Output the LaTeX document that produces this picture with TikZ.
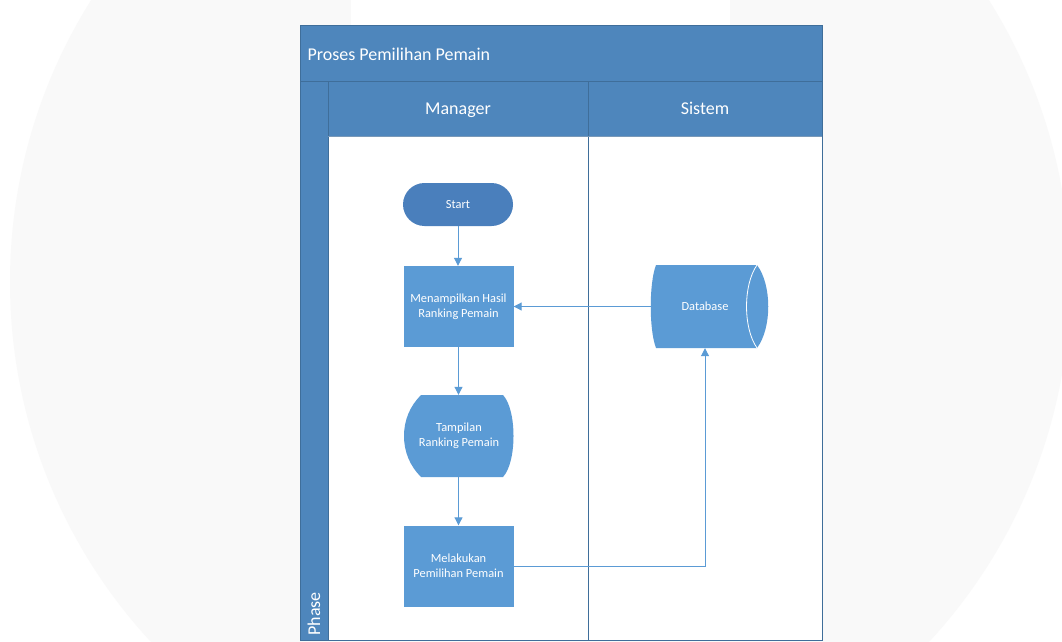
\documentclass[tikz,border=0pt]{standalone}
\usepackage{fontspec}
\setmainfont{Carlito}
\usetikzlibrary{arrows.meta}

\definecolor{pagegray}{HTML}{F9F9F9}
\definecolor{hdrblue}{HTML}{4E86BC}
\definecolor{laneline}{HTML}{3F6E9A}
\definecolor{shapeblue}{HTML}{5B9BD5}
\definecolor{startblue}{HTML}{4A7FBC}
\definecolor{connblue}{HTML}{5B9BD5}

\tikzset{
  shapetext/.style={text=white, align=center, font=\fontsize{12.4}{15}\selectfont},
  procbox/.style={shapetext, fill=shapeblue, minimum width=110pt, minimum height=81pt, inner sep=0pt},
  termbox/.style={shapetext, fill=startblue, rounded corners=21.5pt, minimum width=110pt, minimum height=43pt, inner sep=0pt},
  ghostbox/.style={shapetext, inner sep=0pt},
  headtext/.style={text=white, font=\fontsize{18}{20}\selectfont},
  conn/.style={draw=connblue, line width=1pt, -{Triangle[length=8pt,width=8pt]}},
  lanerule/.style={draw=laneline, line width=0.9pt},
}

\begin{document}
\begin{tikzpicture}[x=1pt, y=-1pt]
  \useasboundingbox (0,0) rectangle (1062,642);

  % page backdrop
  \fill[white] (0,0) rectangle (1062,642);
  \fill[pagegray] (540,282) circle (530);
  \fill[white] (351,0) rectangle (730,100);

  % pool: title bar, lane headers, phase column, lane bodies
  \fill[hdrblue] (300,25) rectangle (822,136);
  \fill[hdrblue] (300,136) rectangle (328,640);
  \fill[white] (328,136) rectangle (822,640);
  \draw[lanerule] (300,25) rectangle (822,640);
  \draw[lanerule] (300,81) -- (822,81);
  \draw[lanerule] (328,81) -- (328,640);
  \draw[lanerule] (588,81) -- (588,640);
  \draw[draw=laneline!70, line width=0.6pt] (328,136) -- (822,136);

  \node[headtext, anchor=west] (title) at (304,54) {Proses Pemilihan Pemain};
  \node[headtext, anchor=base] (manager) at (458,114) {Manager};
  \node[headtext, anchor=base] (sistem) at (705,114) {Sistem};
  \node[headtext, rotate=90, anchor=west] (phase) at (314,639) {Phase};

  % display shape outline
  \fill[shapeblue] (421,395) -- (503,395)
    .. controls (517,410) and (517,462) .. (503,477)
    -- (421,477)
    .. controls (410,466) and (404,452) .. (404,436)
    .. controls (404,420) and (410,406) .. (421,395) -- cycle;

  % direct-access storage outline
  \fill[shapeblue] (656,265) -- (757,265)
    .. controls (772,285) and (772,328) .. (757,348)
    -- (656,348)
    .. controls (649,330) and (649,283) .. (656,265) -- cycle;
  \draw[white, line width=0.8pt] (757,265) .. controls (743,285) and (743,328) .. (757,348);

  % flow nodes
  \node[termbox] (start) at (458,204.5) {Start};
  \node[procbox] (rank) at (458.5,306.5) {Menampilkan Hasil\\Ranking Pemain};
  \node[ghostbox, minimum width=110pt, minimum height=82pt] (disp) at (459,436) {Tampilan\\Ranking Pemain};
  \node[procbox] (pilih) at (458.5,566) {Melakukan\\Pemilihan Pemain};
  \node[ghostbox, minimum width=106pt, minimum height=83pt] (db) at (705,306.5) {Database};

  % connectors
  \draw[conn] (start.south) -- (start.south |- rank.north);
  \draw[conn] (rank.south) -- (rank.south |- disp.north);
  \draw[conn] (disp.south -| rank.south) -- (pilih.north);
  \draw[conn] (db.west) -- (rank.east);
  \draw[conn] (pilih.east) -| (db.south);
\end{tikzpicture}
\end{document}
